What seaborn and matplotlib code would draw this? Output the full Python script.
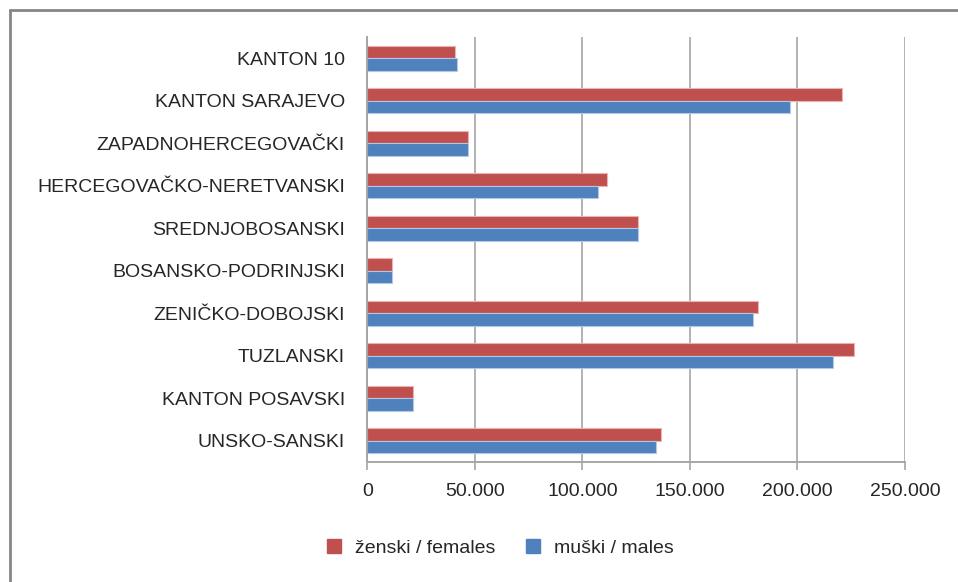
import numpy as np
import pandas as pd
import matplotlib
matplotlib.use('Agg')
import matplotlib.pyplot as plt
from matplotlib.lines import Line2D
import seaborn as sns

# data
kantoni = ['KANTON 10', 'KANTON SARAJEVO', 'ZAPADNOHERCEGOVAČKI',
           'HERCEGOVAČKO-NERETVANSKI', 'SREDNJOBOSANSKI', 'BOSANSKO-PODRINJSKI',
           'ZENIČKO-DOBOJSKI', 'TUZLANSKI', 'KANTON POSAVSKI', 'UNSKO-SANSKI']
zenski = [40900, 220500, 46800, 111600, 125800, 11600, 181800, 226400, 21200, 136700]
muski = [41500, 196700, 46800, 107400, 125800, 11600, 179500, 216300, 21200, 134200]
serije = ['ženski / females', 'muški / males']
boje = ['#C0504D', '#4F81BD']
rubovi = ['#E8B4B3', '#B4C8E4']
xticks = [0, 50000, 100000, 150000, 200000, 250000]
xtick_labels = ['0', '50.000', '100.000', '150.000', '200.000', '250.000']

df = pd.DataFrame({
    'kanton': kantoni * 2,
    'spol': [serije[0]] * len(kantoni) + [serije[1]] * len(kantoni),
    'broj': zenski + muski,
})

sns.set_style('white')
plt.rcParams['font.family'] = ['Liberation Sans', 'DejaVu Sans']
fs = 14

fig = plt.figure(figsize=(9.58, 5.82), dpi=100)
ax = fig.add_axes([367.3 / 958, 1 - 462 / 582, (905 - 367.3) / 958, (462 - 37) / 582])

sns.barplot(data=df, y='kanton', x='broj', hue='spol', hue_order=serije,
            order=kantoni, palette=boje, saturation=1, orient='h', width=0.58,
            dodge=True, legend=False, ax=ax, linewidth=0.8)

# lighter bar outlines like in excel
n = len(kantoni)
for i, p in enumerate(ax.patches[:2 * n]):
    p.set_edgecolor(rubovi[i // n])

ax.set_xlim(0, 250000)
ax.set_ylim(n - 0.5, -0.5)
ax.set_xticks(xticks)
ax.set_xticklabels(xtick_labels, fontsize=fs, color='#262626')
ax.set_yticks(range(n))
ax.set_yticklabels(kantoni, fontsize=fs, color='#262626')
ax.set_xlabel('')
ax.set_ylabel('')

# vertical grid
ax.grid(axis='x', color='#A6A6A6', linewidth=1.2)
ax.grid(axis='y', visible=False)
ax.set_axisbelow(True)

for s in ['top', 'right']:
    ax.spines[s].set_visible(False)
for s in ['left', 'bottom']:
    ax.spines[s].set_color('#A6A6A6')
    ax.spines[s].set_linewidth(1.4)

ax.tick_params(axis='y', which='major', length=0, pad=16)
ax.set_yticks(np.arange(-0.5, n, 1), minor=True)
ax.tick_params(axis='y', which='minor', length=6, width=1.2, color='#A6A6A6', direction='out')
ax.tick_params(axis='x', length=6, width=1.2, color='#A6A6A6', direction='out', pad=9, bottom=True)

# legend
rucke = [Line2D([0], [0], marker='s', linestyle='', markersize=10,
                markerfacecolor=b, markeredgecolor=b) for b in boje]
fig.legend(rucke, serije, loc='center', bbox_to_anchor=(494 / 958, 1 - 548 / 582),
           ncol=2, frameon=False, fontsize=fs, handletextpad=0.1,
           columnspacing=0.9, labelcolor='#262626')

# chart border (top and left visible)
fig.add_artist(Line2D([10 / 958, 10 / 958], [0, 1 - 10 / 582], color='#868686',
                      linewidth=2, transform=fig.transFigure))
fig.add_artist(Line2D([10 / 958, 1], [1 - 10 / 582, 1 - 10 / 582], color='#868686',
                      linewidth=2, transform=fig.transFigure))

fig.savefig('out.png', dpi=100, facecolor='white')
